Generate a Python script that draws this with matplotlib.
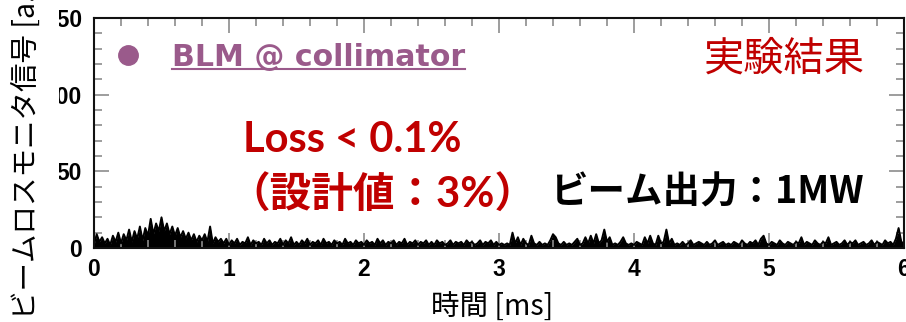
import numpy as np
import matplotlib.pyplot as plt
from matplotlib.lines import Line2D
from matplotlib.ticker import MultipleLocator

plt.rcParams['font.family'] = ['Noto Sans CJK JP', 'DejaVu Sans']

# BLM signal at the collimator, one sample every 0.02 ms from 0 to 6 ms
signal = np.array([
    2, 9, 4, 7, 3, 6, 2, 8, 4, 10, 3, 9, 5, 12, 4, 11, 6, 14, 5, 13, 8, 19, 9, 16, 11,
    20, 11, 16, 9, 14, 8, 13, 7, 11, 6, 10, 5, 9, 4, 8, 5, 9, 4, 14, 3, 7, 4, 6, 3, 6,
    2, 5, 3, 6, 2, 4, 3, 7, 2, 5, 3, 4, 2, 6, 3, 5, 2, 4, 3, 6, 2, 5, 3, 7, 2,
    4, 2, 5, 3, 6, 2, 4, 3, 5, 2, 6, 3, 4, 2, 5, 3, 4, 2, 6, 3, 4, 2, 5, 3, 4,
    2, 5, 3, 4, 2, 6, 3, 5, 2, 4, 3, 5, 2, 4, 3, 6, 2, 4, 3, 5, 2, 4, 3, 5, 2,
    4, 2, 5, 3, 4, 2, 3, 5, 2, 4, 3, 4, 2, 5, 3, 4, 2, 3, 5, 2, 4, 3, 5, 2, 4,
    2, 3, 2, 3, 2, 10, 3, 7, 2, 6, 3, 2, 8, 3, 2, 4, 2, 3, 2, 5, 9, 7, 3, 2, 4,
    2, 3, 2, 4, 6, 2, 3, 7, 3, 8, 3, 9, 3, 5, 12, 4, 7, 2, 3, 2, 4, 7, 3, 2, 3,
    2, 4, 3, 2, 7, 3, 8, 3, 2, 8, 3, 4, 12, 3, 6, 2, 3, 2, 4, 2, 3, 5, 2, 3, 4,
    3, 2, 4, 2, 3, 5, 2, 3, 4, 2, 3, 2, 4, 3, 2, 5, 3, 2, 4, 3, 5, 2, 6, 8, 3,
    2, 4, 3, 2, 5, 3, 2, 4, 3, 2, 4, 3, 7, 2, 4, 3, 2, 5, 3, 2, 4, 3, 7, 2, 3,
    4, 2, 3, 5, 2, 4, 3, 5, 2, 3, 4, 2, 3, 5, 2, 4, 3, 2, 5, 3, 4, 2, 6, 13, 4, 3,
])
time_ms = np.linspace(0, 6, len(signal))

x_ticks = [0, 1, 2, 3, 4, 5, 6]
y_ticks = [0, 50, 100, 150]

RED = '#c00000'
PURPLE = '#9a5a8b'
W, H = 906, 322

fig = plt.figure(figsize=(W / 100, H / 100), dpi=100)
ax = fig.add_axes([94 / W, 74 / H, 810 / W, 230 / H])

ax.fill_between(time_ms, 0, signal, color='black', lw=0)
ax.plot(time_ms, signal, color='black', lw=1.4)

ax.set_xlim(0, 6)
ax.set_ylim(0, 150)
ax.set_xticks(x_ticks)
ax.set_yticks(y_ticks)
ax.xaxis.set_minor_locator(MultipleLocator(0.2))
ax.yaxis.set_minor_locator(MultipleLocator(10))
ax.tick_params(which='both', direction='in', top=True, right=True,
               color='#8c8c8c', width=1.2)
ax.tick_params(which='major', length=11, labelsize=16.5)
ax.tick_params(which='minor', length=5.5)
ax.tick_params(axis='x', pad=7)
ax.tick_params(axis='y', pad=8.5)
for lab in ax.get_xticklabels() + ax.get_yticklabels():
    lab.set_fontfamily('Liberation Sans')
    lab.set_fontweight('bold')
for sp in ax.spines.values():
    sp.set_linewidth(1.5)
    sp.set_color('#111111')

# legend: purple dot + underlined label
key = Line2D([], [], marker='o', ls='none', color=PURPLE, markersize=14)
leg = ax.legend([key], ['BLM @ collimator'], loc='center left',
                bbox_to_anchor=(0.024, 0.83), frameon=False, borderpad=0,
                borderaxespad=0, handlelength=1.0, handletextpad=0.95,
                prop={'family': 'DejaVu Sans', 'weight': 'bold', 'size': 21.6})
leg.get_texts()[0].set_color(PURPLE)

fig.text(27 / W, 3 / H, 'ビームロスモニタ信号 [a.u.]', rotation=90,
         ha='center', va='bottom', fontsize=20.5,
         bbox=dict(fc='white', ec='none', pad=12))
fig.text(492 / W, 6 / H, '時間 [ms]', ha='center', va='baseline', fontsize=20.5)

fig.text(243 / W, 1 - 152 / H, 'Loss < 0.1%', color=RED, fontsize=30,
         fontweight='bold', family=['Lato', 'Noto Sans CJK JP'],
         ha='left', va='baseline')
fig.text(536 / W, 1 - 208 / H, '（設計値：3%）', color=RED, fontsize=30,
         fontweight='bold', family=['Lato', 'Noto Sans CJK JP'],
         ha='right', va='baseline')
fig.text(550 / W, 1 - 203 / H, 'ビーム出力：1MW', color='black', fontsize=27,
         fontweight='bold', family=['Noto Sans CJK JP', 'DejaVu Sans'],
         ha='left', va='baseline')
fig.text(704 / W, 1 - 71 / H, '実験結果', color=RED, fontsize=29,
         ha='left', va='baseline')

# underline under the legend label
fig.canvas.draw()
bb = leg.get_texts()[0].get_window_extent()
fig.add_artist(Line2D([bb.x0 / W, bb.x1 / W], [(bb.y0 + 3) / H] * 2,
                      transform=fig.transFigure, color=PURPLE, lw=1.5))

fig.savefig('out.png', dpi=100)
